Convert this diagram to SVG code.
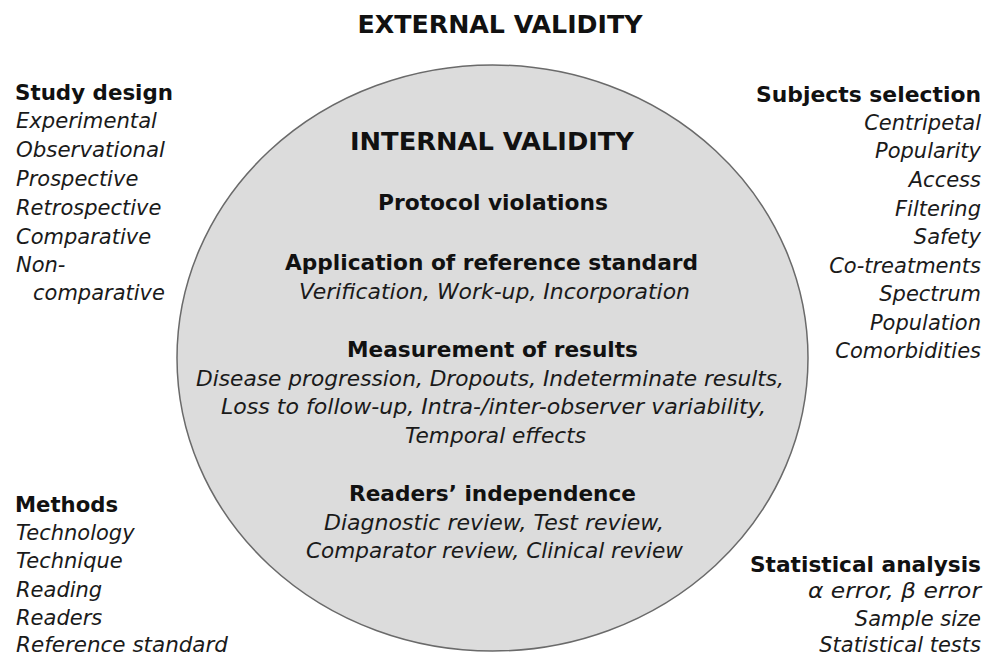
<svg xmlns="http://www.w3.org/2000/svg" width="998" height="658" viewBox="0 0 998 658">
<style>
text{font-family:"DejaVu Sans","Verdana",sans-serif;fill:#111}
.t{font-weight:bold;font-size:25px}
.h{font-weight:bold;font-size:21.5px}
.i{font-style:italic;font-size:21px;fill:#1a1a1a}
.m{text-anchor:middle}
.e{text-anchor:end}
</style>
<rect width="998" height="658" fill="#fff"/>
<g id="external-validity">
<text class="t m" x="500" y="33" textLength="285" lengthAdjust="spacingAndGlyphs">EXTERNAL VALIDITY</text>
</g>
<g id="internal-validity">
<ellipse cx="492.5" cy="358" rx="315.5" ry="293" fill="#dcdcdc" stroke="#6a6a6a" stroke-width="1.5"/>
<text class="t m" x="492" y="150" textLength="284" lengthAdjust="spacingAndGlyphs">INTERNAL VALIDITY</text>
<text class="h m" x="493" y="210" textLength="230" lengthAdjust="spacingAndGlyphs">Protocol violations</text>
<text class="h m" x="491.5" y="270" textLength="413" lengthAdjust="spacingAndGlyphs">Application of reference standard</text>
<text class="i m" x="494.5" y="299" textLength="391" lengthAdjust="spacingAndGlyphs">Verification, Work-up, Incorporation</text>
<text class="h m" x="492.5" y="357" textLength="291" lengthAdjust="spacingAndGlyphs">Measurement of results</text>
<text class="i m" x="490" y="386" textLength="588" lengthAdjust="spacingAndGlyphs">Disease progression, Dropouts, Indeterminate results,</text>
<text class="i m" x="493.5" y="414" textLength="545" lengthAdjust="spacingAndGlyphs">Loss to follow-up, Intra-/inter-observer variability,</text>
<text class="i m" x="495.5" y="443" textLength="181" lengthAdjust="spacingAndGlyphs">Temporal effects</text>
<text class="h m" x="492.5" y="501" textLength="287" lengthAdjust="spacingAndGlyphs">Readers’ independence</text>
<text class="i m" x="494" y="530" textLength="340" lengthAdjust="spacingAndGlyphs">Diagnostic review, Test review,</text>
<text class="i m" x="494.5" y="558" textLength="377" lengthAdjust="spacingAndGlyphs">Comparator review, Clinical review</text>
</g>
<g id="study-design">
<text class="h" x="15" y="100" textLength="158" lengthAdjust="spacingAndGlyphs">Study design</text>
<text class="i" x="16" y="128" textLength="141" lengthAdjust="spacingAndGlyphs">Experimental</text>
<text class="i" x="16" y="157" textLength="149" lengthAdjust="spacingAndGlyphs">Observational</text>
<text class="i" x="16" y="186">Prospective</text>
<text class="i" x="16" y="215">Retrospective</text>
<text class="i" x="16" y="244">Comparative</text>
<text class="i" x="16" y="272">Non-</text>
<text class="i" x="33" y="300">comparative</text>
</g>
<g id="methods">
<text class="h" x="15" y="512" textLength="103" lengthAdjust="spacingAndGlyphs">Methods</text>
<text class="i" x="16" y="540">Technology</text>
<text class="i" x="16" y="568">Technique</text>
<text class="i" x="16" y="597">Reading</text>
<text class="i" x="16" y="625">Readers</text>
<text class="i" x="16" y="652" textLength="212" lengthAdjust="spacingAndGlyphs">Reference standard</text>
</g>
<g id="subjects-selection">
<text class="h e" x="981" y="102" textLength="225" lengthAdjust="spacingAndGlyphs">Subjects selection</text>
<text class="i e" x="981" y="130">Centripetal</text>
<text class="i e" x="981" y="158">Popularity</text>
<text class="i e" x="981" y="187">Access</text>
<text class="i e" x="981" y="216">Filtering</text>
<text class="i e" x="981" y="244">Safety</text>
<text class="i e" x="981" y="273">Co-treatments</text>
<text class="i e" x="981" y="301">Spectrum</text>
<text class="i e" x="981" y="330">Population</text>
<text class="i e" x="981" y="358">Comorbidities</text>
</g>
<g id="statistical-analysis">
<text class="h e" x="981" y="572" textLength="231" lengthAdjust="spacingAndGlyphs">Statistical analysis</text>
<text class="i e" x="981" y="598" textLength="173" lengthAdjust="spacingAndGlyphs">α error, β error</text>
<text class="i e" x="981" y="626">Sample size</text>
<text class="i e" x="981" y="652">Statistical tests</text>
</g>
<g id="connectors"></g>
</svg>
